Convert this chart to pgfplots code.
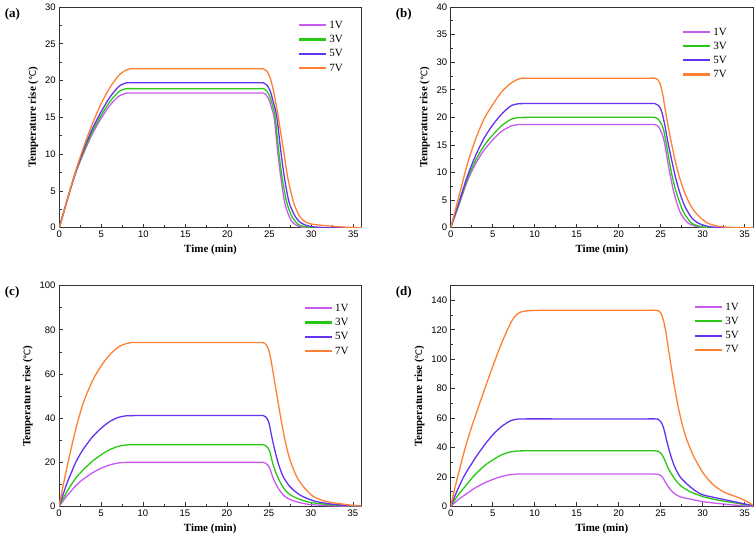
\documentclass[border=0pt]{standalone}
\usepackage{fontspec}
\setmainfont{Liberation Serif}
\newfontfamily\arialf{Liberation Sans}
\newfontfamily\dejavu{DejaVu Sans}
\usepackage{pgfplots}
\pgfplotsset{compat=1.18}
\definecolor{cA}{RGB}{200,90,240}
\definecolor{cB}{RGB}{40,200,20}
\definecolor{cC}{RGB}{100,50,240}
\definecolor{cD}{RGB}{255,128,50}
\pgfplotsset{legend image code/.code={\draw[#1,line width=2.1pt,sharp plot] plot coordinates {(0pt,0.3pt) (13pt,0.3pt) (27pt,0.3pt)};}}
\pgfplotsset{myax/.style={
  scale only axis, width=302.4pt, height=220.7pt,
  xmin=0, xmax=36, ymin=0, clip mode=individual,
  xtick={0,5,...,35}, minor x tick num=1, minor y tick num=1,
  tick pos=left, tick align=inside,
  major tick length=4pt, minor tick length=2.5pt,
  axis line style={line width=0.8pt, black!80},
  every tick/.style={black!80, line width=0.6pt},
  tick label style={font=\arialf\fontsize{9.5}{10}\selectfont},
  /pgf/number format/assume math mode=true,
  xlabel={\bfseries Time (min)},
  ylabel={\bfseries Temperature rise ({\dejavu\mdseries\fontsize{9}{10}\selectfont ℃})},
  label style={font=\fontsize{11}{12}\selectfont},
  legend style={draw=none, fill=none, font=\fontsize{11}{12}\selectfont, row sep=1.5pt},
  legend cell align=left,
  every axis plot/.append style={line width=1.3pt},
}}
\begin{document}
\begin{tikzpicture}
\useasboundingbox (0,0) rectangle (756pt,546pt);
% (a)
\begin{axis}[myax, at={(59.3pt,318.3pt)}, anchor=south west, ymax=30, ytick={0,5,...,30},
  legend style={at={(0.955,0.955)}, anchor=north east}]
\addplot[cA, smooth, tension=0.5] coordinates {(0,0) (1,4.0) (2,7.6) (3,10.4) (4,12.9) (5,14.9) (6,16.6) (7,17.8) (7.5,18.1) (8,18.3) (9,18.3) (12,18.3) (16,18.3) (20,18.3) (23.5,18.3) (24.3,18.3) (24.6,18.1) (25.0,17.3) (25.3,16.2) (25.6,14.8) (26.0,10.3) (26.4,6.6) (26.8,3.6) (27.2,2.0) (27.6,1.0) (28.0,0.5) (28.5,0.2) (29,0.05) (30,0) (33,0) (36,0)};
\addplot[cB, smooth, tension=0.5] coordinates {(0,0) (1,4.0) (2,7.7) (3,10.6) (4,13.2) (5,15.3) (6,17.1) (7,18.4) (7.5,18.75) (8,18.9) (9,18.9) (12,18.9) (16,18.9) (20,18.9) (23.5,18.9) (24.3,18.9) (24.6,18.7) (25.0,18.0) (25.4,16.6) (25.7,15.0) (26.1,10.6) (26.5,7.0) (27.0,3.8) (27.4,2.3) (27.7,1.5) (28.2,0.7) (28.7,0.3) (29.5,0.1) (30.5,0) (33,0) (36,0)};
\addplot[cC, smooth, tension=0.5] coordinates {(0,0) (1,4.0) (2,7.8) (3,10.9) (4,13.6) (5,15.8) (6,17.7) (7,19.1) (7.5,19.5) (8,19.7) (9,19.7) (12,19.7) (16,19.7) (20,19.7) (23.5,19.7) (24.3,19.7) (24.7,19.4) (25.1,18.6) (25.5,17.0) (25.9,15.0) (26.35,10.6) (26.8,6.8) (27.3,3.7) (27.7,2.4) (28.1,1.5) (28.6,0.8) (29.2,0.4) (30,0.15) (31,0.05) (32,0) (34,0) (36,0)};
\addplot[cD, smooth, tension=0.5] coordinates {(0,0) (1,4.0) (2,7.9) (3,11.3) (4,14.3) (5,16.9) (6,19.0) (7,20.6) (7.5,21.1) (8,21.45) (8.5,21.6) (9,21.6) (12,21.6) (16,21.6) (20,21.6) (23.5,21.6) (24.3,21.6) (24.7,21.3) (25.1,20.4) (25.5,18.6) (25.8,16.8) (26.1,14.8) (26.4,12.6) (26.7,10.5) (27.2,6.8) (27.8,3.8) (28.2,2.5) (28.7,1.4) (29.3,0.8) (30,0.5) (31,0.35) (32,0.25) (33,0.15) (34,0.08) (35,0.02) (36,0)};
\legend{1V,3V,5V,7V}
\node[font=\bfseries\fontsize{13}{14}\selectfont] at (rel axis cs:-0.155,0.968) {(a)};
\end{axis}
% (b)
\begin{axis}[myax, at={(450.7pt,318.3pt)}, anchor=south west, ymax=40, ytick={0,5,...,40},
  legend style={at={(0.93,0.925)}, anchor=north east}]
\addplot[cA, smooth, tension=0.5] coordinates {(0,0) (1,4.2) (2,8.5) (3,11.7) (4,14.1) (5,15.9) (6,17.4) (7,18.3) (7.5,18.55) (8,18.7) (9,18.7) (12,18.7) (16,18.7) (20,18.7) (23.5,18.7) (24.3,18.7) (24.7,18.4) (25.0,17.6) (25.4,15.8) (25.8,12.3) (26.2,9.0) (26.6,6.2) (27.2,3.2) (27.7,1.8) (28.3,0.8) (29,0.35) (30,0.05) (31,0) (33,0) (36,0)};
\addplot[cB, smooth, tension=0.5] coordinates {(0,0) (1,4.4) (2,8.9) (3,12.3) (4,14.9) (5,16.8) (6,18.4) (7,19.5) (7.5,19.8) (8,19.95) (9,20.0) (12,20.0) (16,20.0) (20,20.0) (23.5,20.0) (24.3,20.0) (24.7,19.7) (25.0,19.0) (25.3,18.0) (25.6,15.8) (26.0,12.3) (26.4,9.1) (26.9,6.2) (27.6,3.2) (28.1,1.9) (28.7,0.8) (29.5,0.3) (30.5,0.05) (31.5,0) (34,0) (36,0)};
\addplot[cC, smooth, tension=0.5] coordinates {(0,0) (1,4.7) (2,9.4) (3,13.2) (4,16.3) (5,18.6) (6,20.5) (7,21.9) (7.5,22.3) (8,22.45) (9,22.5) (12,22.5) (16,22.5) (20,22.5) (23.5,22.5) (24.3,22.5) (24.7,22.2) (25.0,21.5) (25.2,20.6) (25.5,18.5) (25.9,15.2) (26.3,12.3) (26.8,8.9) (27.3,6.2) (27.7,4.5) (28.1,3.2) (28.8,1.6) (29.5,0.8) (30.3,0.35) (31,0.15) (32,0.03) (33,0) (36,0)};
\addplot[cD, smooth, tension=0.5] coordinates {(0,0) (1,5.8) (2,11.6) (3,16.2) (4,19.8) (5,22.3) (6,24.5) (7,26.0) (7.5,26.5) (8,26.9) (8.5,27.1) (9,27.1) (12,27.1) (16,27.1) (20,27.1) (23.5,27.1) (24.3,27.1) (24.6,26.9) (24.9,26.2) (25.2,24.5) (25.5,21.8) (25.9,18.3) (26.3,15.2) (26.7,12.3) (27.3,8.8) (27.9,6.2) (28.4,4.5) (28.9,3.2) (29.6,2.0) (30.5,0.9) (31.3,0.45) (32,0.22) (33,0.08) (34,0.02) (35,0) (36,0)};
\legend{1V,3V,5V,7V}
\node[font=\bfseries\fontsize{13}{14}\selectfont] at (rel axis cs:-0.155,0.968) {(b)};
\end{axis}
% (c)
\begin{axis}[myax, at={(59pt,39.7pt)}, anchor=south west, ymax=100, ytick={0,20,...,100},
  legend style={at={(0.975,0.935)}, anchor=north east}]
\addplot[cA, smooth, tension=0.5] coordinates {(0,0) (0.5,2.5) (1,5) (1.5,7.2) (2,9.3) (2.5,11.1) (3,12.6) (4,15.2) (5,17.2) (6,18.7) (7,19.6) (7.5,19.8) (8,19.9) (9,19.9) (12,19.9) (16,19.9) (20,19.9) (23.5,19.9) (24.3,19.9) (24.6,19.5) (24.9,18.5) (25.1,17.2) (25.5,12.7) (26.1,8.2) (26.9,4.4) (27.9,2.5) (29.5,1.0) (31.5,0.4) (33.5,0.1) (35,0) (36,0)};
\addplot[cB, smooth, tension=0.5] coordinates {(0,0) (0.5,3.5) (1,7) (1.5,10) (2,12.8) (2.5,15) (3,17) (4,20.5) (5,23.3) (6,25.6) (7,27.1) (7.5,27.5) (8,27.8) (9,27.9) (12,27.9) (16,27.9) (20,27.9) (23.5,27.9) (24.3,27.9) (24.6,27.5) (24.9,26.3) (25.1,24.8) (25.5,18.7) (26.1,12.7) (26.9,7.4) (27.9,4.4) (29.5,2.1) (31.5,1.0) (33.5,0.4) (35,0.1) (36,0)};
\addplot[cC, smooth, tension=0.5] coordinates {(0,0) (0.5,5.5) (1,11) (1.5,15.5) (2,20) (2.5,23.5) (3,26.5) (4,31.5) (5,35.3) (6,38.3) (7,40.2) (7.5,40.7) (8,41.0) (9,41.1) (12,41.1) (16,41.1) (20,41.1) (23.5,41.1) (24.3,41.1) (24.6,40.6) (24.9,38.8) (25.1,36) (25.5,28.5) (26.1,19.5) (26.7,13.4) (27.5,8.9) (28.7,5.1) (30.3,2.5) (31.9,1.3) (33.5,0.6) (35,0.2) (36,0.05)};
\addplot[cD, smooth, tension=0.5] coordinates {(0,0) (0.5,9.5) (1,18.5) (1.5,27) (2,35) (2.5,42) (3,48) (4,57) (5,63.5) (6,68.5) (7,72) (7.5,73) (8,73.7) (8.5,74.1) (9,74.2) (12,74.2) (16,74.2) (20,74.2) (23.5,74.2) (24.3,74.2) (24.6,73.5) (24.9,71.5) (25.2,67) (25.5,60.3) (25.9,51.2) (26.3,42.2) (26.9,30) (27.5,21) (28.3,13.4) (29.1,8.9) (30.3,4.4) (31.9,2.1) (33.8,1.0) (35,0.4) (36,0.1)};
\legend{1V,3V,5V,7V}
\node[font=\bfseries\fontsize{13}{14}\selectfont] at (rel axis cs:-0.155,0.968) {(c)};
\end{axis}
% (d)
\begin{axis}[myax, at={(450.7pt,39.7pt)}, anchor=south west, ymax=150, ytick={0,20,...,140},
  legend style={at={(0.97,0.94)}, anchor=north east}]
\addplot[cA, smooth, tension=0.5] coordinates {(0,0) (0.5,2.5) (1,5) (1.5,7) (2,9) (2.5,11) (3,12.8) (4,15.8) (5,18.2) (6,20.2) (7,21.4) (7.5,21.7) (8,21.9) (9,21.9) (12,21.9) (16,21.9) (20,21.9) (23.5,21.9) (24.3,21.9) (24.7,21.7) (25.0,21.0) (25.3,19.0) (25.6,16.0) (25.9,13.3) (26.5,9.2) (27.3,6.5) (28.5,4.9) (30.1,3.1) (31.7,2.0) (33.6,0.9) (35,0.3) (36,0)};
\addplot[cB, smooth, tension=0.5] coordinates {(0,0) (0.5,4.5) (1,8.5) (1.5,12) (2,15.5) (2.5,19) (3,22) (4,27.5) (5,31.5) (6,34.8) (7,36.8) (7.5,37.3) (8,37.6) (9,37.7) (12,37.7) (16,37.7) (20,37.7) (23.5,37.7) (24.3,37.7) (24.7,37.4) (25.0,36.2) (25.3,33.6) (25.6,29.8) (25.9,25.8) (26.5,20.1) (27.3,14.4) (28.5,9.9) (30.1,6.5) (31.7,4.3) (33.6,2.5) (35,1.2) (36,0.3)};
\addplot[cC, smooth, tension=0.5] coordinates {(0,0) (0.5,7) (1,13.5) (1.5,19.5) (2,24.5) (2.5,29) (3,33.5) (4,41.5) (5,48.5) (6,54) (7,57.8) (7.5,58.8) (8,59.3) (9,59.4) (12,59.4) (16,59.4) (20,59.4) (23.5,59.4) (24.3,59.4) (24.7,59.2) (25.0,57.5) (25.3,54) (25.6,47.5) (25.9,40.4) (26.5,29.2) (27.3,20.1) (28.5,13.3) (29.7,8.5) (30.7,6.8) (31.7,5.6) (33.6,3.3) (35,1.6) (36,0.3)};
\addplot[cD, smooth, tension=0.5] coordinates {(0,0) (0.5,12.5) (1,24) (1.5,35) (2,45) (2.5,54) (3,62.5) (4,79) (5,95) (6,110) (7,123) (7.5,128) (8,131) (8.5,132.3) (9,132.8) (10,133.1) (12,133.3) (16,133.3) (20,133.3) (23.5,133.3) (24.3,133.3) (24.7,133.0) (25.0,131.5) (25.3,127) (25.6,119) (26.0,104) (26.5,86) (27.0,70) (27.5,57) (28.0,47) (28.5,39.5) (29.0,33) (29.5,28) (30.0,23) (31.0,16) (32.0,11.5) (33.0,8.5) (34.0,6.5) (35.0,4.0) (35.5,2.5) (36,0.5)};
\legend{1V,3V,5V,7V}
\node[font=\bfseries\fontsize{13}{14}\selectfont] at (rel axis cs:-0.155,0.968) {(d)};
\end{axis}
\end{tikzpicture}
\end{document}
